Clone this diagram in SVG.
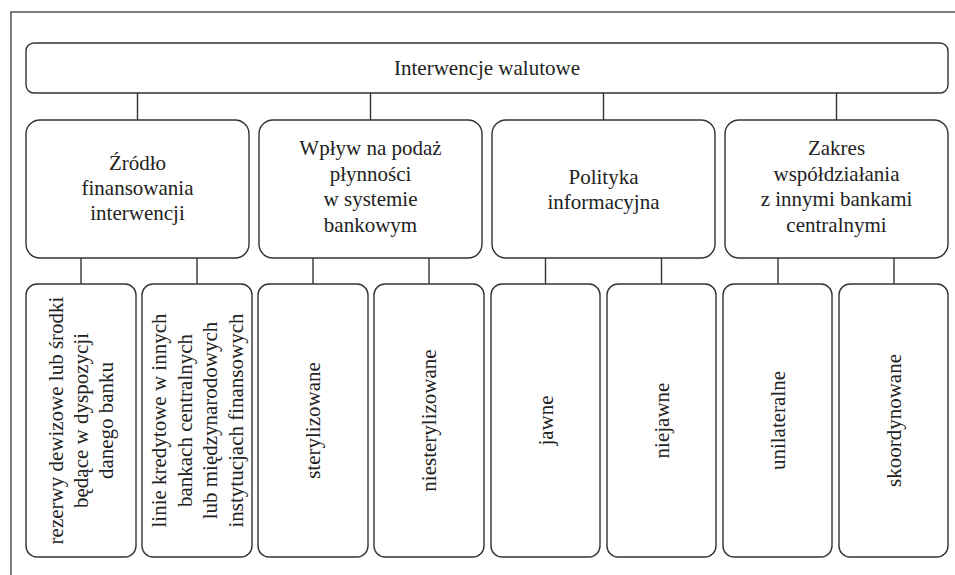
<svg xmlns="http://www.w3.org/2000/svg" width="955" height="575" viewBox="0 0 955 575" font-family="Liberation Serif, serif">
<style>
.b{fill:#fff;stroke:#333;stroke-width:1.4}
.t{font-size:21px;fill:#222;text-anchor:middle}
.c{stroke:#333;stroke-width:1.4;fill:none}
</style>
<rect x="0" y="0" width="955" height="575" fill="#fff"/>
<rect x="11" y="12" width="970" height="600" fill="none" stroke="#555" stroke-width="1.5"/>
<g id="connectors" class="c">
<path d="M137.5 93V120M370.5 93V120M603.5 93V120M836.5 93V120"/>
<path d="M81 258V284M197 258V284M313 258V284M429 258V284M545.5 258V284M661.5 258V284M778 258V284M894 258V284"/>
</g>
<g id="root"><rect class="b" x="26" y="43" width="922" height="50" rx="8"/><text class="t" x="487" y="75">Interwencje walutowe</text></g>
<g id="n1"><rect class="b" x="26" y="120" width="223" height="138" rx="14"/><text class="t" x="137.5" y="170">Źródło<tspan x="137.5" dy="25">finansowania</tspan><tspan x="137.5" dy="25">interwencji</tspan></text></g>
<g id="n2"><rect class="b" x="259" y="120" width="223" height="138" rx="14"/><text class="t" x="370.5" y="155">Wpływ na podaż<tspan x="370.5" dy="25.5">płynności</tspan><tspan x="370.5" dy="25.5">w systemie</tspan><tspan x="370.5" dy="25.5">bankowym</tspan></text></g>
<g id="n3"><rect class="b" x="492" y="120" width="223" height="138" rx="14"/><text class="t" x="603.5" y="184">Polityka<tspan x="603.5" dy="25">informacyjna</tspan></text></g>
<g id="n4"><rect class="b" x="725" y="120" width="223" height="138" rx="14"/><text class="t" x="836.5" y="155">Zakres<tspan x="836.5" dy="25.5">współdziałania</tspan><tspan x="836.5" dy="25.5">z innymi bankami</tspan><tspan x="836.5" dy="25.5">centralnymi</tspan></text></g>
<g id="l1"><rect class="b" x="26" y="284" width="110" height="273" rx="11"/><text class="t" transform="translate(81 420.5) rotate(-90)" x="0" y="-18">rezerwy dewizowe lub środki<tspan x="0" dy="25">będące w dyspozycji</tspan><tspan x="0" dy="25">danego banku</tspan></text></g>
<g id="l2"><rect class="b" x="142" y="284" width="110" height="273" rx="11"/><text class="t" transform="translate(197 420.5) rotate(-90)" x="0" y="-31">linie kredytowe w innych<tspan x="0" dy="25.5">bankach centralnych</tspan><tspan x="0" dy="25.5">lub międzynarodowych</tspan><tspan x="0" dy="25.5">instytucjach finansowych</tspan></text></g>
<g id="l3"><rect class="b" x="258" y="284" width="110" height="273" rx="11"/><text class="t" transform="translate(313 420.5) rotate(-90)" x="0" y="7">sterylizowane</text></g>
<g id="l4"><rect class="b" x="374" y="284" width="110" height="273" rx="11"/><text class="t" transform="translate(429 420.5) rotate(-90)" x="0" y="7">niesterylizowane</text></g>
<g id="l5"><rect class="b" x="491" y="284" width="109" height="273" rx="11"/><text class="t" transform="translate(545.5 420.5) rotate(-90)" x="0" y="7">jawne</text></g>
<g id="l6"><rect class="b" x="607" y="284" width="109" height="273" rx="11"/><text class="t" transform="translate(661.5 420.5) rotate(-90)" x="0" y="7">niejawne</text></g>
<g id="l7"><rect class="b" x="723" y="284" width="109" height="273" rx="11"/><text class="t" transform="translate(777.5 420.5) rotate(-90)" x="0" y="7">unilateralne</text></g>
<g id="l8"><rect class="b" x="839" y="284" width="109" height="273" rx="11"/><text class="t" transform="translate(893.5 420.5) rotate(-90)" x="0" y="7">skoordynowane</text></g>
</svg>
